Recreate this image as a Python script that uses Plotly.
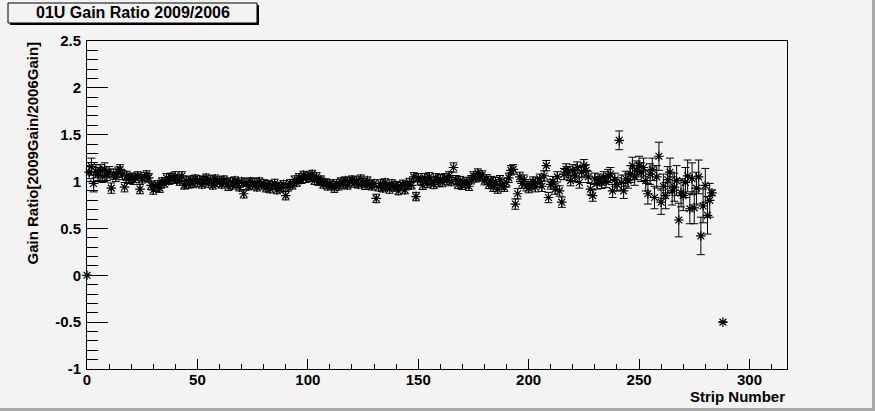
import plotly.graph_objects as go

# ---------------- data ----------------
strip_numbers = list(range(0, 284)) + [288]

ratio_001_050 = [1.10, 1.16, 0.98, 1.11, 1.08, 1.12, 1.05, 1.13, 1.07, 1.10,
                 0.93, 1.08, 1.05, 1.10, 1.13, 1.07, 0.94, 1.06, 1.03, 1.04,
                 1.02, 1.04, 1.06, 0.92, 1.03, 1.05, 1.07, 1.04, 0.96, 0.91,
                 0.94, 0.97, 0.93, 1.00, 0.98, 1.04, 1.01, 1.05, 1.02, 1.06,
                 1.03, 1.00, 1.06, 0.96, 1.01, 0.97, 1.02, 0.98, 1.03, 0.99]
ratio_051_100 = [1.02, 0.97, 1.01, 1.04, 0.98, 1.02, 0.96, 1.03, 0.99, 1.01,
                 0.97, 1.02, 0.99, 0.95, 1.00, 0.96, 1.01, 0.98, 0.94, 1.00,
                 0.87, 0.99, 0.95, 1.00, 0.96, 0.99, 0.94, 1.00, 0.96, 0.98,
                 0.93, 0.97, 0.92, 0.96, 0.98, 0.91, 0.95, 0.93, 0.97, 0.85,
                 0.94, 0.98, 0.96, 1.02, 0.99, 1.04, 1.02, 1.07, 1.03, 1.06]
ratio_101_150 = [1.04, 1.08, 1.01, 1.05, 1.00, 1.02, 0.97, 0.99, 0.95, 0.98,
                 0.96, 0.93, 0.98, 0.95, 1.00, 0.97, 1.01, 0.96, 1.00, 1.02,
                 0.98, 1.01, 0.97, 1.03, 0.99, 0.96, 1.01, 0.97, 0.95, 0.98,
                 0.82, 0.94, 0.98, 0.93, 0.99, 0.95, 0.92, 0.98, 0.94, 0.96,
                 0.90, 0.95, 0.97, 0.91, 0.96, 0.99, 0.96, 1.05, 0.84, 1.04]
ratio_151_200 = [1.01, 0.96, 1.04, 0.98, 1.05, 1.00, 0.97, 1.04, 0.99, 1.03,
                 0.99, 1.04, 1.01, 1.06, 1.00, 1.15, 1.02, 0.97, 1.01, 0.96,
                 0.98, 1.00, 0.95, 1.02, 1.06, 1.04, 1.09, 1.05, 1.07, 1.01,
                 1.03, 0.97, 1.01, 0.94, 1.00, 0.92, 1.02, 0.96, 0.94, 0.99,
                 1.04, 1.12, 1.13, 0.76, 0.87, 1.05, 0.98, 1.02, 0.95, 0.93]
ratio_201_250 = [0.97, 1.00, 0.94, 0.99, 1.03, 0.95, 1.06, 1.17, 0.83, 0.97,
                 1.00, 0.92, 1.05, 0.90, 0.78, 1.08, 1.13, 1.10, 1.01, 1.12,
                 1.06, 1.15, 0.99, 1.10, 1.17, 1.12, 1.05, 0.92, 0.85, 1.03,
                 0.98, 1.02, 0.99, 1.04, 1.00, 1.06, 1.08, 0.90, 1.02, 0.97,
                 1.44, 0.99, 0.90, 1.03, 1.01, 1.08, 1.17, 1.05, 1.12, 1.17]
ratio_251_283 = [1.10, 1.15, 1.01, 0.87, 1.08, 1.13, 0.83, 1.05, 1.27, 0.78,
                 0.95, 0.85, 1.02, 1.10, 0.90, 0.94, 1.01, 0.59, 0.88, 0.85,
                 0.99, 1.06, 0.71, 1.03, 0.72, 0.93, 1.05, 0.42, 0.74, 0.96,
                 0.64, 0.80, 0.88]

err_001_050 = [0.07, 0.09, 0.09, 0.07, 0.07, 0.06, 0.06, 0.07, 0.06, 0.06,
               0.055, 0.055, 0.05, 0.055, 0.05, 0.05, 0.05, 0.05, 0.05, 0.05,
               0.05, 0.05, 0.045, 0.05, 0.045, 0.045, 0.045, 0.045, 0.045, 0.045,
               0.045, 0.04, 0.045, 0.04, 0.04, 0.045, 0.04, 0.04, 0.04, 0.045,
               0.04, 0.04, 0.045, 0.04, 0.04, 0.04, 0.04, 0.045, 0.04, 0.04]
err_051_100 = [0.04, 0.04, 0.045, 0.04, 0.04, 0.04, 0.04, 0.04, 0.045, 0.04,
               0.04, 0.04, 0.04, 0.045, 0.04, 0.04, 0.04, 0.04, 0.04, 0.04,
               0.045, 0.04, 0.04, 0.04, 0.04, 0.045, 0.04, 0.04, 0.04, 0.04,
               0.04, 0.04, 0.04, 0.04, 0.045, 0.04, 0.04, 0.04, 0.04, 0.045,
               0.04, 0.04, 0.04, 0.04, 0.04, 0.045, 0.04, 0.04, 0.04, 0.04]
err_101_150 = [0.04, 0.04, 0.04, 0.045, 0.04, 0.04, 0.04, 0.04, 0.04, 0.04,
               0.04, 0.045, 0.04, 0.04, 0.04, 0.04, 0.04, 0.04, 0.045, 0.04,
               0.04, 0.04, 0.04, 0.04, 0.04, 0.045, 0.04, 0.04, 0.04, 0.04,
               0.045, 0.04, 0.04, 0.04, 0.04, 0.04, 0.045, 0.04, 0.04, 0.04,
               0.04, 0.04, 0.045, 0.04, 0.04, 0.045, 0.04, 0.045, 0.045, 0.045]
err_151_200 = [0.045, 0.045, 0.045, 0.045, 0.045, 0.045, 0.045, 0.045, 0.045, 0.045,
               0.045, 0.045, 0.045, 0.045, 0.045, 0.05, 0.045, 0.045, 0.045, 0.045,
               0.045, 0.045, 0.045, 0.045, 0.045, 0.045, 0.045, 0.045, 0.045, 0.045,
               0.045, 0.045, 0.045, 0.045, 0.045, 0.045, 0.045, 0.045, 0.045, 0.045,
               0.05, 0.05, 0.05, 0.055, 0.055, 0.05, 0.05, 0.05, 0.05, 0.05]
err_201_250 = [0.05, 0.05, 0.05, 0.05, 0.05, 0.055, 0.055, 0.055, 0.055, 0.05,
               0.055, 0.055, 0.055, 0.055, 0.055, 0.06, 0.06, 0.06, 0.055, 0.06,
               0.06, 0.06, 0.06, 0.06, 0.065, 0.06, 0.06, 0.06, 0.06, 0.06,
               0.06, 0.06, 0.065, 0.065, 0.065, 0.07, 0.07, 0.07, 0.07, 0.07,
               0.10, 0.08, 0.08, 0.08, 0.08, 0.09, 0.09, 0.09, 0.10, 0.10]
err_251_283 = [0.10, 0.10, 0.11, 0.11, 0.11, 0.12, 0.12, 0.12, 0.15, 0.13,
               0.13, 0.14, 0.14, 0.15, 0.15, 0.15, 0.16, 0.18, 0.15, 0.16,
               0.16, 0.17, 0.16, 0.17, 0.17, 0.17, 0.18, 0.20, 0.18, 0.18,
               0.20, 0.18, 0.03]

gain_ratio = ([0.0] + ratio_001_050 + ratio_051_100 + ratio_101_150
              + ratio_151_200 + ratio_201_250 + ratio_251_283 + [-0.5])
ratio_error = ([0.0] + err_001_050 + err_051_100 + err_101_150
               + err_151_200 + err_201_250 + err_251_283 + [0.0])

y_tick_values = [-1, -0.5, 0, 0.5, 1, 1.5, 2, 2.5]
y_tick_labels = ["-1", "-0.5", "0", "0.5", "1", "1.5", "2", "2.5"]
x_tick_values = [0, 50, 100, 150, 200, 250, 300]
x_tick_labels = ["0", "50", "100", "150", "200", "250", "300"]

chart_title = "01U Gain Ratio 2009/2006"
x_title = "Strip Number"
y_title = "Gain Ratio[2009Gain/2006Gain]"

# ---------------- layout geometry ----------------
W, H = 875, 411
L, R, T, B = 87, 787, 41, 369
BG = "#f3f3f3"
FONT = "Liberation Sans"


def px_x(px):
    return (px - L) / (R - L)


def px_y(py):
    return (B - py) / (B - T)


fig = go.Figure()
fig.add_trace(go.Scatter(
    x=strip_numbers, y=gain_ratio, mode="markers",
    marker=dict(symbol="asterisk-open", size=8, color="black",
                line=dict(color="black", width=1.2)),
    error_y=dict(type="data", array=ratio_error, visible=True,
                 color="black", thickness=1, width=4),
    cliponaxis=False, showlegend=False,
))

axis_font = dict(family=FONT, size=15, color="black", weight="bold")

fig.update_layout(
    width=W, height=H,
    margin=dict(l=L, r=W - R, t=T, b=H - B, pad=0),
    paper_bgcolor=BG, plot_bgcolor=BG,
    font=dict(family=FONT, color="black"),
    xaxis=dict(range=[0, 317], showgrid=False, zeroline=False,
               showline=True, linecolor="black", linewidth=1, mirror=True,
               ticks="inside", ticklen=10, tickcolor="black", tickwidth=1,
               tickvals=x_tick_values, ticktext=x_tick_labels,
               tickfont=axis_font, ticklabelstandoff=-3,
               minor=dict(dtick=10, tick0=0, ticks="inside", ticklen=5,
                          tickcolor="black", tickwidth=1, showgrid=False)),
    yaxis=dict(range=[-1, 2.5], showgrid=False, zeroline=False,
               showline=True, linecolor="black", linewidth=1, mirror=True,
               ticks="inside", ticklen=21, tickcolor="black", tickwidth=1,
               tickvals=y_tick_values, ticktext=y_tick_labels,
               tickfont=axis_font, ticklabelstandoff=2,
               minor=dict(dtick=0.1, tick0=0, ticks="inside", ticklen=11,
                          tickcolor="black", tickwidth=1, showgrid=False)),
)

shapes = [
    # title box shadow and box
    dict(type="rect", xref="paper", yref="paper",
         x0=px_x(10), x1=px_x(259), y0=px_y(25), y1=px_y(5),
         fillcolor="black", line=dict(width=0), layer="above"),
    dict(type="rect", xref="paper", yref="paper",
         x0=px_x(8), x1=px_x(257), y0=px_y(23), y1=px_y(3),
         fillcolor=BG, line=dict(color="black", width=1), layer="above"),
    # canvas bevel (right and bottom)
    dict(type="rect", xref="paper", yref="paper",
         x0=px_x(872), x1=px_x(876), y0=px_y(412), y1=px_y(0),
         fillcolor="#a8a8a8", line=dict(width=0), layer="above"),
    dict(type="rect", xref="paper", yref="paper",
         x0=px_x(0), x1=px_x(876), y0=px_y(412), y1=px_y(408),
         fillcolor="#a8a8a8", line=dict(width=0), layer="above"),
]
fig.update_layout(shapes=shapes)

title_font = dict(family=FONT, size=16, color="black", weight="bold")
fig.add_annotation(xref="paper", yref="paper", x=px_x(132.5), y=px_y(13),
                   text=chart_title, showarrow=False, font=title_font,
                   xanchor="center", yanchor="middle")
fig.add_annotation(xref="paper", yref="paper", x=1, y=px_y(396),
                   text=x_title, showarrow=False, font=axis_font,
                   xanchor="right", yanchor="middle")
fig.add_annotation(xref="paper", yref="paper", x=px_x(32), y=px_y(40),
                   text=y_title, showarrow=False, font=axis_font,
                   textangle=-90, xanchor="center", yanchor="top")

fig.write_html("out.html",
               config={"displayModeBar": False},
               post_script="document.body.style.margin='0';"
                           "document.body.style.overflow='hidden';")
